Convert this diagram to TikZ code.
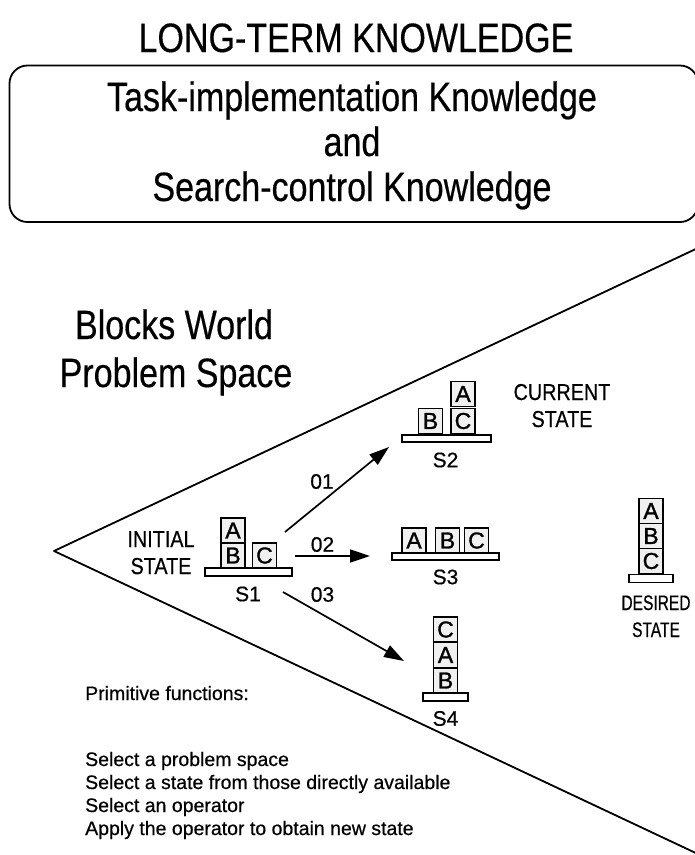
\documentclass[tikz,border=0pt]{standalone}
\usepackage{fontspec}
\setmainfont{Liberation Sans}
\newfontfamily\bigfont[FakeStretch=0.83,FakeBold=0.4]{Liberation Sans}
\newfontfamily\tagfont[FakeStretch=0.86,FakeBold=0.5]{Liberation Sans}
\newfontfamily\thinfont[FakeStretch=0.74,FakeBold=0.5]{Liberation Sans}
\newfontfamily\blockfont[FakeBold=1.2]{Liberation Sans}
\newfontfamily\labelfont[FakeBold=0.5]{Liberation Sans}
\usetikzlibrary{arrows.meta}

\begin{document}
\begin{tikzpicture}[x=1pt,y=-1pt,
  heading/.style={font=\bigfont\fontsize{41}{41}\selectfont, inner sep=0pt, anchor=base},
  tag/.style={font=\tagfont\fontsize{23}{23}\selectfont, inner sep=0pt, anchor=base},
  dtag/.style={font=\thinfont\fontsize{21}{21}\selectfont, inner sep=0pt, anchor=base},
  slabel/.style={font=\labelfont\fontsize{21}{21}\selectfont, inner sep=0pt},
  small/.style={font=\labelfont\fontsize{19.5}{19.5}\selectfont, inner sep=0pt, anchor=base west},
  blk/.style={draw, line width=1.3pt, fill=gray!12, minimum width=24pt, minimum height=25pt,
              inner sep=0pt, font=\blockfont\fontsize{23}{23}\selectfont},
  plank/.style={draw, line width=1.4pt, fill=white, inner sep=0pt},
  edge/.style={line width=1.8pt, line cap=round, line join=round},
  move/.style={line width=1.7pt, -{Triangle[length=20pt,width=13pt]}},
]
\useasboundingbox (0,0) rectangle (695,855);
\clip (0,0) rectangle (695,855);

% long-term knowledge store
\node[heading] (ltk) at (356,52) {LONG-TERM KNOWLEDGE};
\draw[edge, rounded corners=18pt] (9.5,65.5) rectangle (698,222);
\node[heading] (tik) at (352,111) {Task-implementation Knowledge};
\node[heading] (and) at (352,156) {and};
\node[heading] (sck) at (352,201) {Search-control Knowledge};

% problem space wedge
\coordinate (apex) at (54,551);
\coordinate (wtop) at (700,247);
\coordinate (wbot) at (700,855);
\draw[edge] (wtop) -- (apex) -- (wbot);
\node[heading] (bw) at (174,339) {Blocks World};
\node[heading] (ps) at (176,387) {Problem Space};

% S1: initial state
\node[plank, minimum width=87pt, minimum height=8pt] (p1) at (248.5,572) {};
\node[blk] (s1b) at (233,555.5) {B};
\node[blk] (s1a) at (233,530.5) {A};
\node[blk] (s1c) at (264.5,555.5) {C};
\node[slabel] (l1) at (248,594) {S1};
\node[tag] (init1) at (161,547) {INITIAL};
\node[tag] (init2) at (161,574) {STATE};

% S2: current state
\node[plank, minimum width=89pt, minimum height=7pt] (p2) at (446.5,438.5) {};
\node[blk] (s2b) at (430.5,421) {B};
\node[blk] (s2c) at (463,421) {C};
\node[blk] (s2a) at (463,394) {A};
\node[slabel] (l2) at (445.5,460) {S2};
\node[tag] (cur1) at (562,400) {CURRENT};
\node[tag] (cur2) at (562,427) {STATE};

% S3
\node[plank, minimum width=107pt, minimum height=7pt] (p3) at (445.5,556.5) {};
\node[blk] (s3a) at (414,540.5) {A};
\node[blk] (s3b) at (447.5,540.5) {B};
\node[blk] (s3c) at (476.5,540.5) {C};
\node[slabel] (l3) at (445.5,577) {S3};

% S4
\node[blk] (s4c) at (445.5,629.5) {C};
\node[blk] (s4a) at (445.5,655) {A};
\node[blk] (s4b) at (445.5,680.5) {B};
\node[plank, minimum width=45pt, minimum height=8pt] (p4) at (445.5,697) {};
\node[slabel] (l4) at (445.5,718.5) {S4};

% desired state
\node[blk] (dsa) at (651,511) {A};
\node[blk] (dsb) at (651,536) {B};
\node[blk] (dsc) at (651,561) {C};
\node[plank, minimum width=44pt, minimum height=8pt] (p5) at (651,578.5) {};
\node[dtag] (des1) at (656,610) {DESIRED};
\node[dtag] (des2) at (656,637) {STATE};

% operators
\coordinate (o1s) at (285,532);
\coordinate (o1e) at (389,447);
\coordinate (o2s) at (295,556);
\coordinate (o2e) at (370,556);
\coordinate (o3s) at (283,592);
\coordinate (o3e) at (404,661);
\draw[move] (o1s) -- (o1e);
\draw[move] (o2s) -- (o2e);
\draw[move] (o3s) -- (o3e);
\node[slabel] (n1) at (322,481.5) {01};
\node[slabel] (n2) at (322.5,544.5) {02};
\node[slabel] (n3) at (322.5,594.5) {03};

% primitive functions
\node[small] (pf) at (85,700) {Primitive functions:};
\node[small] (f1) at (85,766) {Select a problem space};
\node[small] (f2) at (85,789) {Select a state from those directly available};
\node[small] (f3) at (85,812) {Select an operator};
\node[small] (f4) at (85,835) {Apply the operator to obtain new state};
\end{tikzpicture}
\end{document}
